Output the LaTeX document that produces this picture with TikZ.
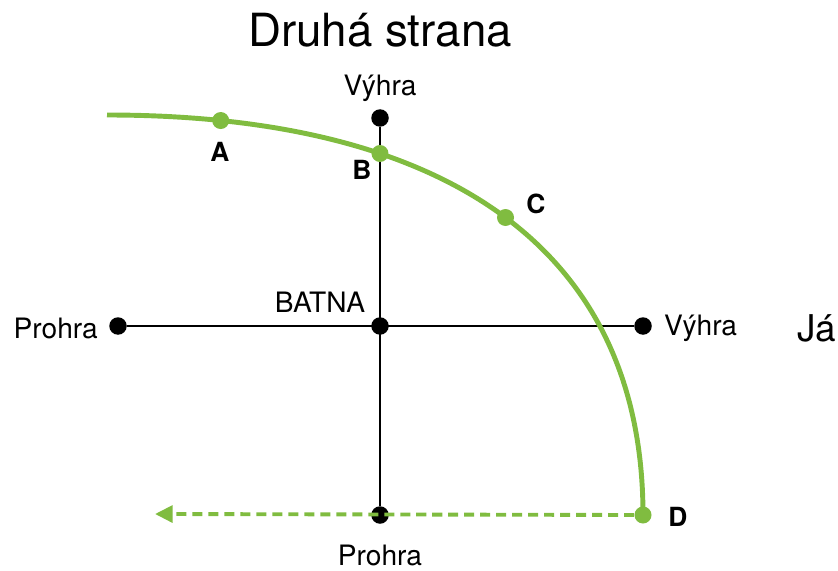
\documentclass[tikz,border=0pt]{standalone}
\usepackage{fontspec}
\setmainfont{TeX Gyre Heros}
\usepackage{xcolor}
\usetikzlibrary{arrows.meta}
\definecolor{dealgreen}{RGB}{128,188,64}

\begin{document}
\begin{tikzpicture}[x=0.2mm, y=-0.2mm]
    \tikzset{bdot/.style={circle, fill=black, minimum size=3.5mm, inner sep=0pt},
             gdot/.style={circle, fill=dealgreen, minimum size=3.4mm, inner sep=0pt},
             axis/.style={line width=1.1pt},
             lbl/.style={font=\fontsize{16}{19}\selectfont},
             pt/.style={font=\fontsize{15}{17}\selectfont\bfseries}}
    \useasboundingbox (0,0) rectangle (838,571);
    % axes
    \node[bdot] (batna) at (380,326) {};
    \node[bdot] (themwin) at (380,118) {};
    \node[bdot] (themloss) at (380,515) {};
    \node[bdot] (meloss) at (118,326) {};
    \node[bdot] (mewin) at (643,326) {};
    \draw[axis] (meloss) -- (mewin);
    \draw[axis] (themwin) -- (themloss);
    % frontier
    \coordinate (start) at (107,115);
    \node[gdot] (D) at (643,515) {};
    \draw[dealgreen, line width=2.8pt] (start) .. controls (455,115) and (643,255) .. (D.center)
        node[gdot, pos=0.115] (A) {} node[gdot, pos=0.305] (B) {} node[gdot, pos=0.5] (C) {};
    \coordinate (tip) at (155,514);
    \draw[dealgreen, line width=2.2pt, dash pattern=on 5.7pt off 3.4pt,
          -{Triangle[length=10pt, width=9.5pt]}] (D) -- (tip);
    % texts
    \node[font=\fontsize{26}{30}\selectfont] (other) at (380,30) {Druhá strana};
    \node[font=\fontsize{21}{25}\selectfont, anchor=west, inner sep=0pt] (me) at (797,328) {Já};
    \node[lbl] (themwinlbl) at (380,88) {Výhra};
    \node[lbl] (themlosslbl) at (380,555) {Prohra};
    \node[lbl, anchor=east] (melosslbl) at (104,328) {Prohra};
    \node[lbl, anchor=west] (mewinlbl) at (658,328) {Výhra};
    \node[lbl] (batnalbl) at (320,302) {BATNA};
    \node[pt] (Albl) at (220,152) {A};
    \node[pt] (Blbl) at (362,170) {B};
    \node[pt] (Clbl) at (536,204) {C};
    \node[pt] (Dlbl) at (678,517) {D};
\end{tikzpicture}
\end{document}
